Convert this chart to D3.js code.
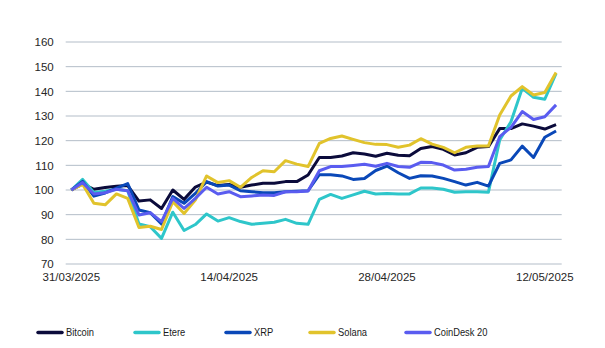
<!DOCTYPE html>
<html><head><meta charset="utf-8">
<script src="https://cdnjs.cloudflare.com/ajax/libs/d3/7.8.5/d3.min.js"></script>
<style>
html,body{margin:0;padding:0;background:#fff;}
svg{display:block;}
text{font-family:"Liberation Sans",Arial,sans-serif;}
</style></head>
<body>
<script>
// ---- data ----
const startDate = "2025-03-31";
const nDays = 44;
const xTickLabels = ["31/03/2025","14/04/2025","28/04/2025","12/05/2025"];
const xTickIndex = [0,14,28,42];
const yTicks = [70,80,90,100,110,120,130,140,150,160];
const seriesNames = ["Bitcoin","Etere","XRP","Solana","CoinDesk 20"];
const bitcoin = [100,102.5,100.3,101,101.5,101.8,95.5,96,92.5,100,96.2,101.2,103.2,101.8,102.2,101.1,102,102.7,102.7,103.4,103.4,106.1,113.2,113.2,113.8,115.1,114.6,113.7,114.9,114.1,113.9,116.8,117.6,116.5,114.2,115.1,117.3,117.6,124.9,124.9,126.8,125.9,124.7,126.5];
const etere = [100,104.3,99,99.5,100.3,99.7,86.2,85.1,80.4,91,83.6,86,90.3,87.4,88.8,87.2,86.1,86.5,86.9,88.1,86.5,86.1,96.2,98.2,96.6,98,99.5,98.4,98.6,98.4,98.4,100.8,100.8,100.3,99.1,99.3,99.3,99.1,120.3,127.7,141.2,137.6,136.8,147.3];
const xrp = [100,103.5,97.5,98.8,100.8,102.6,91.9,90.8,86.2,97.3,94.6,98.6,103.4,101.6,102,99.7,99.3,98.9,98.9,99.3,99.5,99.7,106.2,106.2,105.7,104.3,104.7,107.9,109.7,107,104.7,105.8,105.7,104.7,103.4,102,103.1,101.6,110.8,112.2,117.8,113.2,121.4,123.9];
const solana = [100,102.3,94.6,94,98.4,96.6,84.8,85.3,84,95.3,90.5,95.9,105.7,103,103.8,101.1,105.1,107.8,107.4,111.9,110.5,109.5,118.9,120.9,121.9,120.5,119.2,118.5,118.4,117.3,118.2,120.8,118.6,117.3,115.1,117.3,117.8,117.8,130.4,138.1,141.9,138.5,139.5,147.6];
const coindesk = [100,103,98.4,98.9,100.3,99.7,89.9,90.8,87.2,96.6,92.5,96.6,101.1,98.4,99.3,97.3,97.6,98,97.8,99.3,99.3,99.6,107.8,109.5,109.5,109.9,110.4,109.6,110.8,109.5,109.2,111.2,111.1,110.1,108.1,108.4,109.2,109.5,121.6,125.4,131.8,128.6,129.7,134.5];
const seriesColors = ["#0B0B3B","#2EC6CA","#0A48B8","#E1C32C","#5A5CF0"];

// ---- chart ----
const W = 605, H = 348;
const m = {left:65.7, right:605-561.7, top:42, bottom:348-264};
const svg = d3.select("body").append("svg").attr("width",W).attr("height",H);

const idx = d3.range(nDays);
const x = d3.scaleBand().domain(idx).range([m.left, W-m.right]).paddingInner(0).paddingOuter(0);
const xc = i => x(i) + x.bandwidth()/2;
const y = d3.scaleLinear().domain([70,160]).range([H-m.bottom, m.top]);

// gridlines
svg.append("g").selectAll("line").data(yTicks).join("line")
  .attr("x1", m.left).attr("x2", W-m.right)
  .attr("y1", d=>y(d)).attr("y2", d=>y(d))
  .attr("stroke","#B3BDC8").attr("stroke-width",1);

// y axis labels
const yAxis = d3.axisLeft(y).tickValues(yTicks).tickSize(0).tickPadding(12);
const gy = svg.append("g").attr("transform",`translate(${m.left},0)`).call(yAxis);
gy.select(".domain").remove();
gy.selectAll("text").attr("font-size","11.5px").attr("fill","#262626").attr("font-family","Liberation Sans, Arial, sans-serif");

// x axis labels
const xAxis = d3.axisBottom(x).tickValues(xTickIndex).tickSize(0).tickPadding(9)
  .tickFormat((d,i)=>xTickLabels[i]);
const gx = svg.append("g").attr("transform",`translate(0,${H-m.bottom})`).call(xAxis);
gx.select(".domain").remove();
gx.selectAll("text").attr("font-size","11.5px").attr("fill","#262626").attr("font-family","Liberation Sans, Arial, sans-serif");

// lines
const data = [bitcoin, etere, xrp, solana, coindesk];
const line = d3.line().x((d,i)=>xc(i)).y(d=>y(d));
svg.append("g").selectAll("path").data(data).join("path")
  .attr("d", d=>line(d))
  .attr("fill","none")
  .attr("stroke",(d,i)=>seriesColors[i])
  .attr("stroke-width",3)
  .attr("stroke-linejoin","round");

// legend
const legX = [38,135,226,310,406];
const legY = 332.5;
const lg = svg.append("g").selectAll("g").data(seriesNames).join("g")
  .attr("transform",(d,i)=>`translate(${legX[i]},${legY})`);
lg.append("line").attr("x1",0).attr("x2",24).attr("y1",0).attr("y2",0)
  .attr("stroke",(d,i)=>seriesColors[i]).attr("stroke-width",3.5).attr("stroke-linecap","round");
lg.append("text").attr("transform","translate(28,0) scale(0.85,1)").attr("dy","0.35em")
  .attr("font-size","11px").attr("fill","#1a1a1a")
  .attr("font-family","Liberation Sans, Arial, sans-serif")
  .text(d=>d);
</script>
</body></html>
